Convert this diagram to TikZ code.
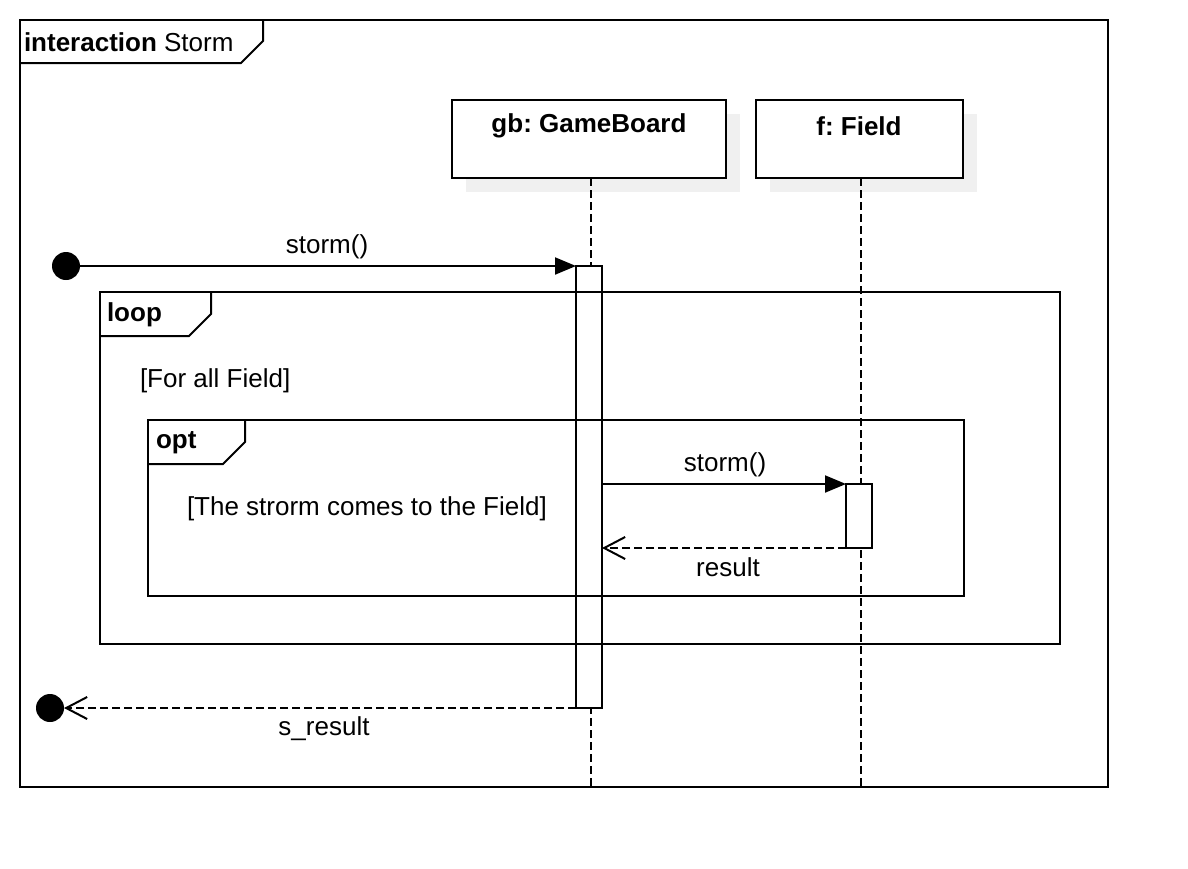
\documentclass[tikz,border=0pt]{standalone}
\usepackage{fontspec}
\setmainfont{Liberation Sans}
\frenchspacing
\usetikzlibrary{arrows.meta}
\begin{document}
\begin{tikzpicture}[x=1pt,y=-1pt,
  every node/.style={outer sep=0pt},
  txt/.style={inner sep=0pt,font=\fontsize{26}{30}\selectfont},
  btxt/.style={inner sep=0pt,font=\fontsize{26}{30}\selectfont\bfseries},
  ln/.style={line width=2pt,black},
  lifeline/.style={line width=2pt,dash pattern=on 8pt off 4pt},
  headbox/.style={draw,line width=2pt,fill=white,anchor=north west,inner sep=0pt},
  act/.style={draw,line width=2pt,fill=white,anchor=north west,inner sep=0pt,minimum width=26pt},
  sync/.style={ln,-{Triangle[length=21pt,width=17pt]}},
  reply/.style={line width=2pt,dash pattern=on 8pt off 4pt,-{Straight Barb[length=21pt,width=22pt,line width=2pt]}},
  dot/.style={circle,fill=black,minimum size=28pt,inner sep=0pt}
]
\useasboundingbox[fill=white] (0,0) rectangle (1188,868);

% outer frame
\draw[ln] (20,20) rectangle (1108,787);
\draw[ln] (20,63) -- (241,63) -- (263,41) -- (263,20);
\node[anchor=west,inner sep=0pt] (title) at (24,42) {\fontsize{26}{30}\selectfont\textbf{interaction} Storm};

% shadows and lifeline heads
\fill[black!6] (466,114) rectangle (740,192);
\fill[black!6] (770,114) rectangle (977,192);
\node[headbox,minimum width=274pt,minimum height=78pt] (gb) at (452,100) {};
\node[btxt] (gbl) at (589,126) {gb: GameBoard};
\node[headbox,minimum width=207pt,minimum height=78pt] (f) at (756,100) {};
\node[btxt] (fl) at (859,126) {f: Field};

% lifelines
\coordinate (gbend) at (591,787);
\coordinate (fend) at (861,787);
\draw[lifeline] (gb.south -| gbend) -- (gbend);
\draw[lifeline] (f.south -| fend) -- (fend);

% activations
\node[act,minimum height=442pt] (actgb) at (576,266) {};
\node[act,minimum height=64pt] (actf) at (846,484) {};

% loop frame
\draw[ln] (100,292) rectangle (1060,644);
\draw[ln] (100,336) -- (189,336) -- (211,314) -- (211,292);
\node[btxt,anchor=west] (loopl) at (107,315) {loop};
\node[txt,anchor=west] (loopg) at (140,381) {[For all Field]};

% opt frame
\draw[ln] (148,420) rectangle (964,596);
\draw[ln] (148,464) -- (223,464) -- (245,442) -- (245,420);
\node[btxt,anchor=west] (optl) at (156,443) {opt};
\node[txt,anchor=west] (optg) at (187,509) {[The strorm comes to the Field]};

% start/end dots
\node[dot] (start) at (66,266) {};
\node[dot] (endd) at (50,708) {};

% messages
\draw[sync] (start.center) -- (actgb.north west);
\node[txt] (m1) at (327,247) {storm()};
\draw[sync] (actgb.east |- actf.north) -- (actf.north west);
\node[txt] (m2) at (725,465) {storm()};
\draw[reply] (actf.south west) -- (actgb.east |- actf.south);
\node[txt] (m3) at (728,567) {result};
\draw[reply] (actgb.south west) -- (endd.center -| endd.east);
\node[txt] (m4) at (324,729) {s\_result};
\end{tikzpicture}
\end{document}
